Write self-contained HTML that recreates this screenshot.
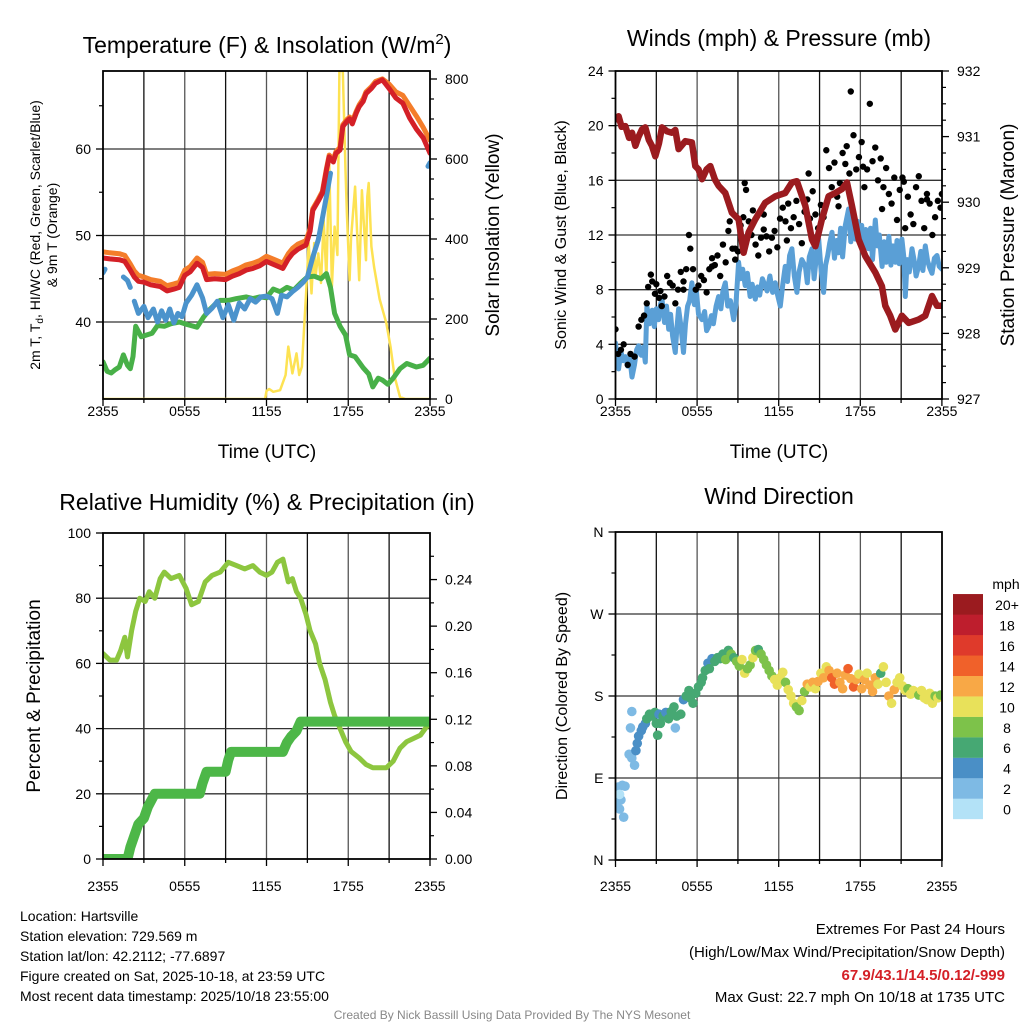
<!DOCTYPE html>
<html><head><meta charset="utf-8">
<style>
html,body{margin:0;padding:0;background:#fff;}
svg{display:block;font-family:"Liberation Sans",Arial,sans-serif;}
</style></head>
<body>
<svg id="c" width="1024" height="1024" viewBox="0 0 1024 1024" xmlns="http://www.w3.org/2000/svg">
<defs>
<clipPath id="cp1"><rect x="103" y="71" width="327" height="328"/></clipPath>
<clipPath id="cp2"><rect x="615.5" y="71" width="326.5" height="328"/></clipPath>
<clipPath id="cp3"><rect x="103" y="533" width="327" height="326"/></clipPath>
<clipPath id="cp4"><rect x="615.5" y="532" width="326.5" height="328"/></clipPath>
</defs>
</svg>
<script>
// ---------- DATA ----------
const tTemp=[0,0.5,1.2,1.6,2.0,2.3,2.6,3.0,3.5,4.2,4.7,5.2,5.6,6.0,6.4,6.9,7.3,7.6,8.2,9.0,9.5,10.0,10.5,11.0,11.5,12.0,12.6,13.2,13.6,13.9,14.3,14.9,15.2,15.4,15.8,16.1,16.4,16.6,16.9,17.1,17.4,17.6,17.9,18.1,18.3,18.6,18.8,19.1,19.3,19.7,20.0,20.5,21.0,21.5,22.0,22.5,23.0,23.5,24];
const tempRed=[47.4,47.3,47.2,47.0,46.0,45.2,44.7,44.6,44.3,44.1,43.6,43.8,44.0,45.4,45.8,46.8,46.3,44.9,45.0,44.9,45.3,45.6,46.0,46.2,46.5,47.0,46.6,46.2,47.3,47.9,48.4,48.9,50.5,52.9,54.0,54.9,57.5,59.1,58.5,59.5,59.9,62.6,63.2,63.5,62.9,64.2,64.9,65.5,66.4,67.0,67.6,68.0,67.0,65.9,65.3,63.6,62.3,61.3,59.5];
const temp9m=[48.1,48.0,47.9,47.7,46.7,45.9,45.4,45.2,44.9,44.7,44.2,44.4,44.6,46.0,46.4,47.4,46.9,45.5,45.6,45.5,45.9,46.2,46.6,46.8,47.1,47.6,47.2,46.8,47.9,48.5,49.0,49.4,50.8,53.1,54.2,55.1,57.7,59.3,58.8,59.7,60.2,62.8,63.4,63.7,63.2,64.4,65.1,65.8,66.6,67.2,67.8,68.1,67.5,66.6,66.2,65.0,63.8,62.5,61.0];
const tChill=[0,0.15,null,1.5,1.8,2.0,null,2.3,2.6,3.0,3.3,3.7,4.0,4.3,4.6,4.9,5.2,5.5,5.8,6.1,6.5,6.9,7.3,7.6,8.0,8.4,8.8,9.2,9.6,10.0,10.4,10.8,11.2,11.6,12.0,12.4,12.8,13.1,13.5,13.9,14.3,14.7,15.0,15.4,15.8,16.1,16.4,16.7,null,23.85,24];
const chillV=[45.7,46.1,null,45.2,44.8,44.0,null,42.4,41.0,41.8,40.5,41.5,40.0,41.3,40.2,41.5,39.9,41.0,40.6,42.2,43.1,44.3,42.8,41.0,41.6,42.4,40.5,42.0,40.2,42.2,41.5,42.7,42.3,42.9,43.0,42.7,41.0,43.1,42.9,43.5,44.0,44.6,45.2,47.5,49.5,52.0,54.5,57.2,null,58.0,58.4];
const tDew=[0,0.3,0.6,0.9,1.2,1.5,1.8,2.0,2.2,2.4,2.8,3.2,3.6,4.0,4.5,5.0,5.6,6.2,6.9,7.4,7.8,8.2,8.6,9.2,9.8,10.5,11.0,11.5,12.0,12.5,13.0,13.5,14.0,14.5,15.0,15.5,16.0,16.4,16.7,17.0,17.4,17.8,18.1,18.5,19.1,19.5,19.8,20.2,20.5,20.9,21.3,21.8,22.3,23.0,23.5,24];
const dewV=[35.4,34.3,34.1,34.5,34.8,36.2,35.0,34.6,36.0,39.5,38.3,38.5,38.7,39.6,39.5,39.8,40.0,39.7,39.4,40.6,41.4,42.0,42.5,42.5,42.7,42.9,42.7,42.9,42.8,43.8,43.5,44.0,43.7,44.5,45.2,45.3,45.0,45.6,44.0,41.0,39.5,38.5,36.2,36.0,34.7,34.0,32.5,33.5,33.3,32.8,33.5,34.6,35.2,34.8,35.0,35.8];
const tSolar=[0,11.9,12.0,12.2,12.5,13.0,13.4,13.6,13.9,14.2,14.4,14.6,14.9,15.1,15.3,15.5,15.6,15.8,16.0,16.2,16.4,16.6,16.8,17.0,17.2,17.35,17.6,17.8,17.9,18.1,18.2,18.5,18.8,19.0,19.3,19.4,19.5,19.7,19.9,20.3,20.8,21.1,21.4,21.8,22.2,24];
const solarV=[0,0,20,25,18,22,60,131,64,114,60,81,260,390,264,390,306,364,290,447,300,597,281,431,360,820,820,572,464,297,400,531,297,522,347,506,540,381,330,250,189,131,56,5,0,0];
const tWind=[0,0.12,0.23,0.4,0.55,0.72,0.9,1.05,1.21,1.4,1.55,1.7,1.9,2.05,2.19,2.31,2.5,2.7,2.85,3.0,3.17,3.3,3.42,3.6,3.75,3.91,4.05,4.2,4.4,4.5,4.64,4.8,5.0,5.15,5.3,5.45,5.62,5.8,5.95,6.1,6.36,6.55,6.7,6.85,7.05,7.2,7.4,7.58,7.75,7.9,8.07,8.25,8.45,8.69,8.85,9.05,9.2,9.35,9.54,9.7,9.9,10.05,10.28,10.45,10.6,10.8,11.0,11.15,11.35,11.55,11.75,11.9,12.12,12.3,12.48,12.65,12.8,12.97,13.15,13.34,13.5,13.7,13.96,14.1,14.25,14.45,14.6,14.75,14.94,15.1,15.3,15.45,15.6,15.75,15.92,16.1,16.25,16.4,16.55,16.7,16.9,17.14,17.3,17.45,17.63,17.8,17.95,18.1,18.25,18.4,18.6,18.75,18.9,19.1,19.25,19.4,19.6,19.75,19.9,20.1,20.25,20.4,20.57,20.7,20.85,21.06,21.2,21.31,21.45,21.6,21.8,21.95,22.1,22.29,22.45,22.6,22.78,22.95,23.1,23.27,23.45,23.64,23.8,24];
const windV=[4.1,3.0,2.2,3.5,2.8,3.1,2.4,3.0,1.6,2.5,3.6,3.9,3.2,3.8,2.7,6.8,5.5,6.5,5.3,6.6,5.8,6.9,7.3,5.6,6.8,5.1,6.2,4.6,3.4,5.0,6.6,5.4,3.4,5.5,6.8,7.2,8.5,6.9,7.9,6.2,5.8,6.4,5.0,5.3,6.1,5.5,6.8,7.5,6.6,7.9,8.5,6.8,7.2,5.8,6.9,10.0,8.8,9.5,8.3,9.2,7.5,8.4,7.3,8.2,7.6,8.8,8.3,7.9,9.0,7.8,8.5,7.7,6.8,8.4,9.7,8.6,10.5,11.0,9.0,7.8,9.3,10.2,9.7,8.5,10.4,11.0,8.8,10.2,11.7,9.6,7.8,9.8,10.5,11.4,12.2,10.3,11.6,10.7,12.5,10.4,12.7,13.9,11.5,12.8,11.7,13.0,11.4,12.7,10.9,12.4,11.0,12.5,10.2,13.1,11.2,12.0,9.7,11.5,10.0,11.9,9.8,11.2,10.0,11.6,9.9,11.7,10.4,7.5,10.2,9.3,11.0,10.2,9.0,9.7,10.8,9.4,11.2,10.1,9.6,9.2,10.3,10.5,9.7,9.5];
const tPres=[0,0.23,0.45,0.72,1.0,1.21,1.46,1.7,1.95,2.19,2.45,2.68,2.93,3.2,3.42,3.8,4.15,4.4,4.64,5.13,5.62,5.87,6.1,6.36,6.7,6.97,7.3,7.58,8.07,8.56,9.05,9.42,9.79,10.28,11.0,11.75,12.48,12.97,13.34,13.96,14.45,14.7,15.18,15.67,16.16,16.65,17.02,17.39,17.88,18.37,19.1,19.59,19.84,20.2,20.57,21.06,21.55,22.29,22.78,23.27,23.64,24];
const presV=[931.26,931.31,931.15,931.16,930.98,931.06,930.86,931.0,931.11,931.14,930.95,930.86,930.70,930.9,931.14,931.08,931.06,931.1,930.81,930.93,930.91,930.55,930.5,930.35,930.5,930.55,930.35,930.25,930.14,929.84,929.74,929.23,929.54,929.74,929.99,930.09,930.14,930.30,930.32,929.94,929.43,929.33,929.74,930.09,930.14,930.20,930.30,929.94,929.43,929.18,928.93,928.72,928.42,928.27,928.06,928.27,928.16,928.21,928.27,928.57,928.42,928.42];
const tGust=[0,0.2,0.4,0.6,0.9,1.1,1.4,1.7,1.9,2.1,2.3,2.4,2.6,2.7,2.9,3.0,3.2,3.4,3.6,3.8,4.0,4.2,4.4,4.6,4.8,5.0,5.2,5.4,5.5,5.7,5.9,6.1,6.3,6.5,6.7,6.9,7.1,7.3,7.5,7.7,7.9,8.1,8.3,8.4,8.6,8.8,9.0,9.2,9.4,9.5,9.6,9.8,10.0,10.1,10.3,10.5,10.7,10.9,11.1,11.3,11.5,11.7,11.9,12.1,12.3,12.5,12.7,12.9,13.1,13.3,13.5,13.7,13.9,14.1,14.3,14.5,14.7,14.9,15.1,15.3,15.5,15.7,15.9,16.1,16.3,16.5,16.7,16.9,17.0,17.2,17.3,17.5,17.7,17.9,18.1,18.3,18.5,18.7,18.9,19.1,19.3,19.5,19.7,19.9,20.1,20.3,20.5,20.7,20.9,21.1,21.3,21.5,21.7,21.9,22.1,22.3,22.5,22.7,22.9,23.1,23.3,23.5,23.7,23.9,24,3.3,5.0,7.1,8.8,10.9,12.6,14.2,16.4,18.2,19.6,21.2,22.9];
const gustV=[5.1,3.3,3.6,4.0,2.5,3.3,3.1,5.3,5.8,6.1,7.0,8.2,9.1,8.6,7.7,8.4,7.4,6.8,7.5,9.0,8.5,8.3,7.0,8.0,9.3,8.0,9.5,12.0,11.0,9.5,8.0,8.3,9.0,8.7,7.8,9.5,10.3,9.8,10.5,9.0,11.3,10.0,12.3,13.0,11.0,10.2,10.8,12.7,13.3,15.8,15.3,13.0,12.0,13.8,11.3,10.5,11.8,13.5,11.9,10.8,11.8,12.3,11.1,13.2,14.0,13.0,14.3,12.5,13.3,14.5,12.8,11.4,13.7,14.6,13.2,15.2,13.5,12.5,14.2,13.3,18.2,16.9,15.5,17.3,14.8,15.8,18.0,17.2,18.5,16.5,22.5,19.3,16.8,17.7,18.8,15.5,16.8,21.6,17.4,18.4,16.0,17.6,15.5,16.9,15.0,14.3,16.2,13.1,15.3,16.2,12.5,14.8,13.5,12.8,15.5,16.3,14.5,12.5,15.0,14.3,12.0,13.3,14.5,14.0,15.0,7.9,8.6,9.7,11.0,12.4,11.6,16.5,14.1,17.0,13.9,15.9,14.6];
const tRH=[0,0.5,1.0,1.3,1.6,1.8,2.1,2.4,2.7,3.1,3.4,3.8,4.2,4.5,5.0,5.6,6.1,6.5,7.0,7.5,8.0,8.6,9.2,9.8,10.4,11.0,11.5,12.0,12.4,12.8,13.2,13.6,13.9,14.2,14.5,14.9,15.2,15.6,15.9,16.3,16.7,17.0,17.4,17.8,18.2,18.8,19.3,19.8,20.3,20.8,21.3,21.8,22.3,22.8,23.3,24];
const rhV=[63,61,61,64,68,62,70,76,80,79,82,80,86,88,86,87,83,78,79,85,87,88,91,90,89,90,88,87,88,91,92,85,86,82,80,75,70,66,60,55,48,44,40,36,33,31,29,28,28,28,30,34,36,37,38,42];
const tPrecip=[0,1.8,2.0,2.3,2.6,3.0,3.3,3.8,7.1,7.3,7.6,9.0,9.2,9.4,13.2,13.5,13.8,14.2,14.5,24];
const precipV=[0,0,0.01,0.02,0.03,0.035,0.045,0.056,0.056,0.065,0.075,0.075,0.085,0.092,0.092,0.10,0.105,0.11,0.118,0.118];
const tDir=[0,0.1,0.2,0.3,0.4,0.5,0.7,0.6,0.3,1.0,1.2,1.4,1.1,1.2,1.5,1.6,1.7,1.9,2.0,2.2,2.3,2.5,2.7,2.9,3.0,3.2,3.3,3.1,3.5,3.7,3.9,4.1,4.3,4.5,4.4,4.8,5.0,5.2,5.4,5.5,5.7,5.9,6.1,6.3,6.4,6.6,6.8,6.9,7.1,7.3,7.5,7.7,7.9,8.1,8.3,8.5,8.7,8.9,9.1,9.3,9.5,9.7,9.9,10.1,10.3,10.5,10.7,10.9,11.1,11.3,11.5,11.7,11.9,12.1,12.3,12.5,12.7,12.9,13.1,13.3,13.5,13.7,13.9,14.1,14.3,14.5,14.7,14.9,15.1,15.3,15.5,15.7,15.9,16.1,16.3,16.5,16.7,16.9,17.1,17.3,17.5,17.7,17.9,18.1,18.3,18.5,18.7,18.9,19.1,19.3,19.5,19.7,19.9,20.1,20.3,20.5,20.7,20.9,21.1,21.3,21.5,21.7,21.9,22.1,22.3,22.5,22.7,22.9,23.1,23.3,23.5,23.7,23.9];
const dirV=[62,70,80,56,66,82,81,47,72,116,112,104,145,163,120,128,136,142,146,150,155,160,158,162,150,160,150,137,158,162,155,163,168,158,145,160,176,180,186,178,172,183,190,195,200,208,216,210,221,218,222,221,226,220,230,226,222,218,213,220,205,210,214,222,230,231,226,220,214,208,202,198,192,200,206,195,187,180,172,168,164,175,185,193,190,195,188,196,205,200,212,208,200,193,205,195,188,203,210,199,190,198,204,188,198,205,192,185,200,193,205,212,195,180,172,187,195,200,191,186,188,182,186,184,181,186,178,176,183,172,180,178,181];
const dirSpd=[2,3,2,2,2,2,2,2,1,2,2,2,2,2,4,4,4,4,4,4,6,6,6,6,6,4,6,6,6,4,6,6,6,6,2,6,4,6,6,6,6,6,6,6,6,6,4,6,4,6,6,6,6,8,6,8,6,8,8,10,10,8,8,10,8,6,8,8,8,8,8,10,10,10,10,8,10,10,10,8,8,10,8,12,10,12,10,12,10,12,10,12,14,14,12,12,12,12,14,12,14,12,10,12,12,10,12,12,12,10,6,10,10,12,10,12,10,10,10,10,8,10,10,10,8,10,10,10,10,10,8,10,8];
const barLabels=["0","2","4","6","8","10","12","14","16","18","20+"];
const barColors=["#b3e2f7","#7ebae4","#4a8fc6","#46a873","#7dc24a","#e8e15a","#f8a846","#f0612a","#df3a2b","#be1e2d","#9b1b1f"];
const timeLabels=["2355","0555","1155","1755","2355"];
const tempTicks=[40,50,60];
const solarTicks=[0,200,400,600,800];
const windTicks=[0,4,8,12,16,20,24];
const presTicks=[927,928,929,930,931,932];
const rhTicks=[0,20,40,60,80,100];
const precTicks=["0.00","0.04","0.08","0.12","0.16","0.20","0.24"];
const dirTicks=["N","E","S","W","N"];

// ---------- SCALES ----------
const x1=h=>103+h*13.625, x2=h=>615.5+h*13.6;
const yT=t=>149+(60-t)*8.65, yS=v=>399-v*0.4;
const yW=v=>399-v*13.667, yP=p=>399-(p-927)*65.6;
const yR=r=>859-r*3.26, yPr=p=>859-p*1164.3;
const yD=d=>860-d*0.9111;

const svg=document.getElementById('c');
const NS="http://www.w3.org/2000/svg";
function mk(tag,attrs,parent){const e=document.createElementNS(NS,tag);for(const k in attrs)e.setAttribute(k,attrs[k]);(parent||svg).appendChild(e);return e;}
function txt(s,x,y,size,anchor,parent,extra){const e=mk('text',Object.assign({x:x,y:y,'font-size':size,'text-anchor':anchor||'middle',fill:'#000'},extra||{}),parent);e.textContent=s;return e;}
function pathD(ts,vs,fx,fy){let d='',pen=false;for(let i=0;i<ts.length;i++){if(ts[i]===null||vs[i]===null){pen=false;continue;}d+=(pen?'L':'M')+fx(ts[i]).toFixed(1)+' '+fy(vs[i]).toFixed(1);pen=true;}return d;}

function panelGrid(x0,w,y0,y1,hLines,name){
  const g=mk('g',{});
  
  
  for(let i=1;i<8;i++){const x=x0+w*i/8;mk('line',{x1:x,y1:y0,x2:x,y2:y1,stroke:i%2?'#111':'#555','stroke-width':1.3},g);}
  hLines.forEach(y=>mk('line',{x1:x0,y1:y,x2:x0+w,y2:y,stroke:'#333','stroke-width':1.3},g));
  return g;
}
panelGrid(103,327,71,399,[yT(60),yT(50),yT(40)],'temp');
panelGrid(615.5,326.5,71,399,windTicks.slice(1,-1).map(yW),'wind');
panelGrid(103,327,533,859,[yR(20),yR(40),yR(60),yR(80)],'rh');
panelGrid(615.5,326.5,532,860,[yD(90),yD(180),yD(270)],'dir');

// ---------- PANEL 1 ----------
const p1=mk('g',{'clip-path':'url(#cp1)'});


let e;
e=mk('path',{d:pathD(tSolar,solarV,x1,yS),fill:'none',stroke:'#fde252','stroke-width':2.5,'stroke-linejoin':'round'},p1);


e=mk('path',{d:pathD(tDew,dewV,x1,yT),fill:'none',stroke:'#48b048','stroke-width':5,'stroke-linejoin':'round','stroke-linecap':'round'},p1);


e=mk('path',{d:pathD(tChill,chillV,x1,yT),fill:'none',stroke:'#4b93cc','stroke-width':5,'stroke-linejoin':'round','stroke-linecap':'round'},p1);


e=mk('path',{d:pathD(tTemp,temp9m,x1,yT),fill:'none',stroke:'#f47d2a','stroke-width':5,'stroke-linejoin':'round','stroke-linecap':'round'},p1);


e=mk('path',{d:pathD(tTemp,tempRed,x1,yT),fill:'none',stroke:'#d42027','stroke-width':5,'stroke-linejoin':'round','stroke-linecap':'round'},p1);



// ---------- PANEL 2 ----------
const p2=mk('g',{'clip-path':'url(#cp2)'});


e=mk('path',{d:pathD(tWind,windV,x2,yW),fill:'none',stroke:'#5a9fd6','stroke-width':5,'stroke-linejoin':'round','stroke-linecap':'round'},p2);


tGust.forEach((t,i)=>{
  const c=mk('circle',{cx:x2(t),cy:yW(gustV[i]),r:3.2,fill:'#000'},p2);
  
  
});
e=mk('path',{d:pathD(tPres,presV,x2,yP),fill:'none',stroke:'#9b1b1f','stroke-width':6.5,'stroke-linejoin':'round','stroke-linecap':'round'},p2);



// ---------- PANEL 3 ----------
const p3=mk('g',{'clip-path':'url(#cp3)'});


e=mk('path',{d:pathD(tRH,rhV,x1,yR),fill:'none',stroke:'#8dc63f','stroke-width':5,'stroke-linejoin':'round','stroke-linecap':'round'},p3);


e=mk('path',{d:pathD(tPrecip,precipV,x1,yPr),fill:'none',stroke:'#4db748','stroke-width':10,'stroke-linejoin':'round','stroke-linecap':'round'},p3);



// ---------- PANEL 4 ----------
const p4=mk('g',{'clip-path':'url(#cp4)'});


tDir.forEach((t,i)=>{
  const idx=Math.min(10,Math.floor(dirSpd[i]/2));
  const c=mk('circle',{cx:x2(t),cy:yD(dirV[i]),r:4.8,fill:barColors[idx]},p4);
  
  
});

// ---------- FRAMES & AXES ----------
function box(x,y,w,h,name){const r=mk('rect',{x:x,y:y,width:w,height:h,fill:'none',stroke:'#000','stroke-width':1.8});}
box(103,71,327,328,'temp-frame');box(615.5,71,326.5,328,'wind-frame');box(103,533,327,326,'rh-frame');box(615.5,532,326.5,328,'dir-frame');

function xAxis(fx,y,ly,name){const g=mk('g',{});
  for(let i=0;i<=8;i++){const x=fx(i*3);mk('line',{x1:x,y1:y,x2:x,y2:y+(i%2?4:7),stroke:'#000','stroke-width':1.3},g);}
  timeLabels.forEach((s,i)=>txt(s,fx(i*6),ly,14,'middle',g));}
xAxis(x1,399,416,'temp-x-axis');xAxis(x2,399,416,'wind-x-axis');xAxis(x1,859,891,'rh-x-axis');xAxis(x2,860,891,'dir-x-axis');

function ticksL(x,vals,fy,labels,name,minor){const g=mk('g',{});
  vals.forEach((v,i)=>{const y=fy(v);mk('line',{x1:x-7,y1:y,x2:x,y2:y,stroke:'#000','stroke-width':1.3},g);txt(labels[i],x-12,y+5,14,'end',g);});
  (minor||[]).forEach(v=>{const y=fy(v);mk('line',{x1:x-4,y1:y,x2:x,y2:y,stroke:'#000','stroke-width':1.2},g);});}
function ticksR(x,vals,fy,labels,name,minor){const g=mk('g',{});
  vals.forEach((v,i)=>{const y=fy(v);mk('line',{x1:x,y1:y,x2:x+7,y2:y,stroke:'#000','stroke-width':1.3},g);txt(labels[i],x+15,y+5,14,'start',g);});
  (minor||[]).forEach(v=>{const y=fy(v);mk('line',{x1:x,y1:y,x2:x+4,y2:y,stroke:'#000','stroke-width':1.2},g);});}
ticksL(103,tempTicks,yT,tempTicks.map(String),'temp-y-axis',[35,45,55,65]);
ticksR(430,solarTicks,yS,solarTicks.map(String),'solar-y-axis',[50,100,150,250,300,350,450,500,550,650,700,750]);
ticksL(615.5,windTicks,yW,windTicks.map(String),'wind-y-axis',[2,6,10,14,18,22]);
ticksR(942,presTicks,yP,presTicks.map(String),'pressure-y-axis',[927.25,927.5,927.75,928.25,928.5,928.75,929.25,929.5,929.75,930.25,930.5,930.75,931.25,931.5,931.75]);
ticksL(103,rhTicks,yR,rhTicks.map(String),'rh-y-axis',[10,30,50,70,90]);
ticksR(430,precTicks.map(Number),yPr,precTicks,'precip-y-axis',[0.02,0.06,0.10,0.14,0.18,0.22,0.26]);
ticksL(615.5,[0,90,180,270,360],yD,dirTicks,'dir-y-axis',[45,135,225,315]);

// ---------- TITLES ----------
function label(s,x,y,size,name,rot,extra){const t=txt(s,x,y,size,'middle',svg,extra);if(rot)t.setAttribute('transform','rotate(-90 '+x+' '+y+')');return t;}
const t1=label('',267,53,23,'temp-title');
t1.innerHTML='Temperature (F) &amp; Insolation (W/m<tspan dy="-9" font-size="15">2</tspan><tspan dy="9">)</tspan>';
label('Winds (mph) & Pressure (mb)',779,46,23,'wind-title');
label('Relative Humidity (%) & Precipitation (in)',267,510,23,'rh-title');
label('Wind Direction',779,504,23,'dir-title');
label('Time (UTC)',267,458,19,'temp-x-title');
label('Time (UTC)',779,458,19,'wind-x-title');
const yl=label('',40,235,14,'temp-y-title',true);
yl.innerHTML='2m T, T<tspan dy="3" font-size="10">d</tspan><tspan dy="-3">, HI/WC (Red, Green, Scarlet/Blue)</tspan>';
label('& 9m T (Orange)',57,235,14,'temp-y-title-2',true);
label('Solar Insolation (Yellow)',499,235,19,'solar-y-title',true);
label('Sonic Wind & Gust (Blue, Black)',566,235,16,'wind-y-title',true);
label('Station Pressure (Maroon)',1014,235,19,'pressure-y-title',true);
label('Percent & Precipitation',40,696,19,'rh-y-title',true);
label('Direction (Colored By Speed)',567,696,16,'dir-y-title',true);

// ---------- COLORBAR ----------
const cb=mk('g',{});


txt('mph',1006,589,14,'middle',cb);
barColors.forEach((c,i)=>{
  const y=819-(i+1)*20.45;
  const r=mk('rect',{x:953,y:y,width:30,height:20.6,fill:c},cb);
  
  
  txt(barLabels[i],1007,y+16,14,'middle',cb);
});

// ---------- FOOTER TEXT ----------
const info=["Location: Hartsville","Station elevation: 729.569 m","Station lat/lon: 42.2112; -77.6897","Figure created on Sat, 2025-10-18, at 23:59 UTC","Most recent data timestamp: 2025/10/18 23:55:00"];
info.forEach((s,i)=>{const t=txt(s,20,921+i*20,14,'start');});
const ex=[['Extremes For Past 24 Hours',934,'extremes-heading',{}],['(High/Low/Max Wind/Precipitation/Snow Depth)',957,'extremes-legend',{}],['67.9/43.1/14.5/0.12/-999',980,'extremes-values',{fill:'#d42027','font-weight':'bold'}],['Max Gust: 22.7 mph On 10/18 at 1735 UTC',1002,'max-gust',{}]];
ex.forEach(a=>{const t=txt(a[0],1005,a[1],15,'end',svg,a[3]);});
const cr=txt('Created By Nick Bassill Using Data Provided By The NYS Mesonet',512,1019,12,'middle',svg,{fill:'#888'});


</script>
</body></html>
